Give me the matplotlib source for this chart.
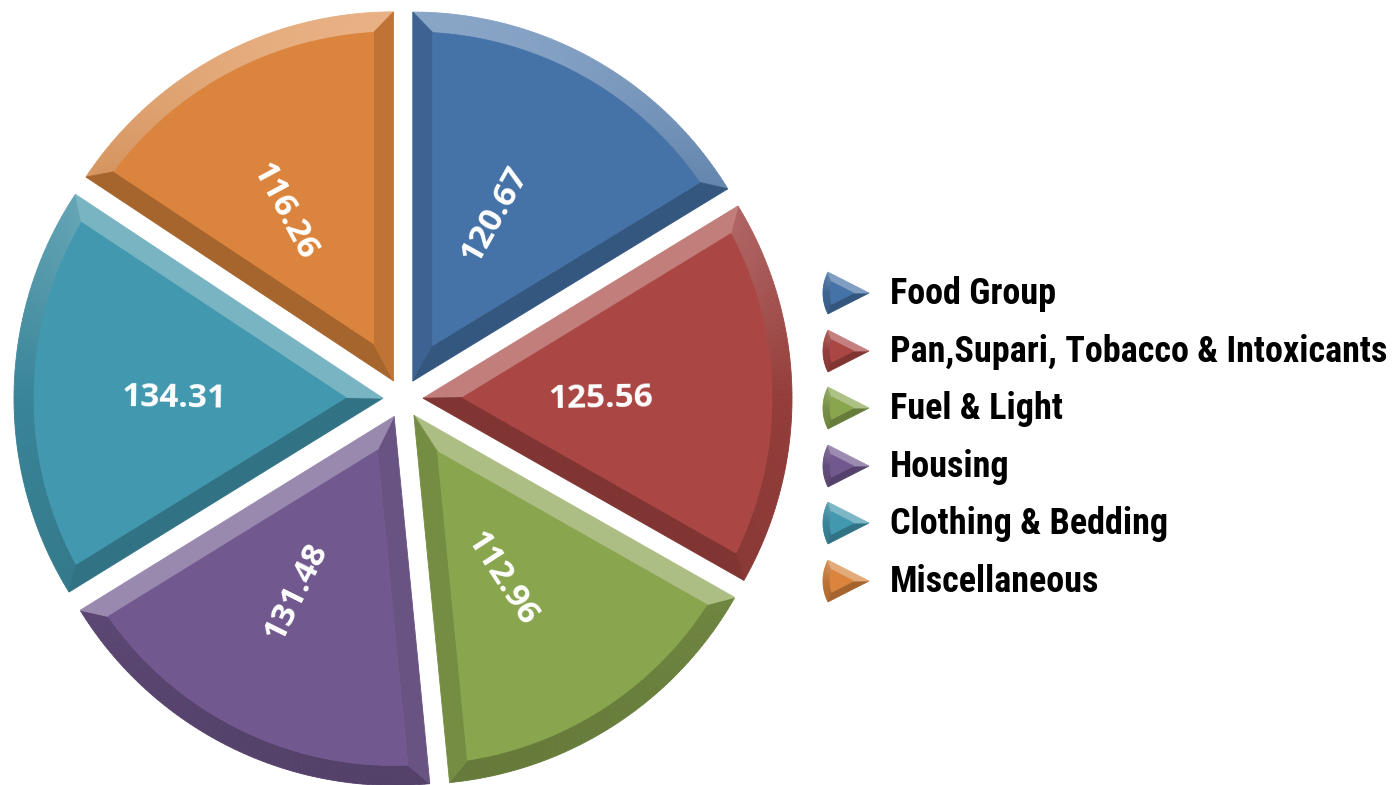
import numpy as np
import matplotlib
matplotlib.use("Agg")
import matplotlib.pyplot as plt
from matplotlib.patches import Polygon
from matplotlib import colors as mcolors
import logging
logging.getLogger("matplotlib.font_manager").setLevel(logging.ERROR)

categories = ["Food Group", "Pan,Supari, Tobacco & Intoxicants", "Fuel & Light",
              "Housing", "Clothing & Bedding", "Miscellaneous"]
values = [120.67, 125.56, 112.96, 131.48, 134.31, 116.26]
labels = ["120.67", "125.56", "112.96", "131.48", "134.31", "116.26"]
slice_colors = ["#4572A7", "#AA4643", "#89A54E", "#71588F", "#4198AF", "#DB843D"]

W, H = 1396, 785
fig = plt.figure(figsize=(W / 100, H / 100), dpi=100)
ax = fig.add_axes([0, 0, 1, 1])
ax.set_xlim(0, W)
ax.set_ylim(0, H)
ax.set_axis_off()

CX, CY = 403, H - 398.5   # pie centre (y up)
R = 369
EXPLODE = 20
BEVEL = 20
LABEL_FS = 24
LEGEND_FONT = ["Roboto Condensed", "Archivo Narrow", "Liberation Sans Narrow", "DejaVu Sans"]


def shade(base, s):
    b = np.array(mcolors.to_rgb(base))
    dark0 = b * 0.87
    if s <= 0:
        c = b * (0.87 + 0.13 * s)
    else:
        light = b * 0.64 + 0.36
        c = dark0 * (1 - s) + light * s
    return np.clip(c, 0, 1)


def bevel_wedge(ax, apex, radius, a1, a2, bevel, base, n=80, z=1):
    """a1 > a2 (degrees, math convention). Draw bevelled wedge."""
    ax_, ay_ = apex
    t1, t2 = np.radians(a1), np.radians(a2)
    half = (t1 - t2) / 2
    mid = (t1 + t2) / 2
    ri = radius - bevel
    d = np.arcsin(bevel / ri)
    ap_in = (ax_ + bevel / np.sin(half) * np.cos(mid), ay_ + bevel / np.sin(half) * np.sin(mid))
    phis = np.linspace(t2 + d, t1 - d, n)
    inner = [ap_in] + [(ax_ + ri * np.cos(p), ay_ + ri * np.sin(p)) for p in phis]
    outs = np.linspace(t2, t1, n + 1)
    ins = np.linspace(t2 + d, t1 - d, n + 1)
    for k in range(n):
        po = [(ax_ + radius * np.cos(outs[k]), ay_ + radius * np.sin(outs[k])),
              (ax_ + radius * np.cos(outs[k + 1]), ay_ + radius * np.sin(outs[k + 1])),
              (ax_ + ri * np.cos(ins[k + 1]), ay_ + ri * np.sin(ins[k + 1])),
              (ax_ + ri * np.cos(ins[k]), ay_ + ri * np.sin(ins[k]))]
        nrm = (outs[k] + outs[k + 1]) / 2
        c = shade(base, np.sin(nrm))
        ax.add_patch(Polygon(po, closed=True, facecolor=c, edgecolor=c, lw=0.6, zorder=z))
    f1 = [(ax_, ay_), (ax_ + radius * np.cos(t1), ay_ + radius * np.sin(t1)),
          (ax_ + ri * np.cos(t1 - d), ay_ + ri * np.sin(t1 - d)), ap_in]
    c1 = shade(base, np.sin(t1 + np.pi / 2))
    ax.add_patch(Polygon(f1, closed=True, facecolor=c1, edgecolor=c1, lw=0.6, zorder=z))
    f2 = [(ax_, ay_), (ax_ + radius * np.cos(t2), ay_ + radius * np.sin(t2)),
          (ax_ + ri * np.cos(t2 + d), ay_ + ri * np.sin(t2 + d)), ap_in]
    c2 = shade(base, np.sin(t2 - np.pi / 2))
    ax.add_patch(Polygon(f2, closed=True, facecolor=c2, edgecolor=c2, lw=0.6, zorder=z))
    ax.add_patch(Polygon(inner, closed=True, facecolor=base, edgecolor=base, lw=0.6, zorder=z + 0.5))


total = sum(values)
start = 90.0
LX, LY = CX - 15, CY     # centre used for value labels
half_cap = 0.714 * LABEL_FS * 100 / 72 / 2   # half of digit height in px
for val, lab, col in zip(values, labels, slice_colors):
    span = val / total * 360.0
    a1, a2 = start, start - span
    mid = np.radians((a1 + a2) / 2)
    apex = (CX + EXPLODE * np.cos(mid), CY + EXPLODE * np.sin(mid))
    bevel_wedge(ax, apex, R, a1, a2, BEVEL, col)
    lr = 0.578 * R
    tx, ty = LX + lr * np.cos(mid), LY + lr * np.sin(mid)
    rot = np.degrees(mid)
    while rot > 90:
        rot -= 180
    while rot < -90:
        rot += 180
    rr = np.radians(rot)
    # baseline anchor so that the digits' visual centre sits at (tx, ty)
    bx, by = tx + half_cap * np.sin(rr), ty - half_cap * np.cos(rr)
    ax.text(bx, by, lab, color="white", fontsize=LABEL_FS, fontweight="bold",
            family=["Open Sans", "DejaVu Sans"], rotation=rot, rotation_mode="anchor",
            ha="center", va="baseline", zorder=5)
    start = a2

# legend
leg_y = [H - 293, H - 351, H - 408, H - 466, H - 523, H - 581]
tip_x = 869
texts = []
for cat, col, y in zip(categories, slice_colors, leg_y):
    bevel_wedge(ax, (tip_x, y), 46, 207, 153, 7, col, n=20)
    t = ax.text(890, y - 1, cat, fontsize=22, fontweight="bold",
                family=LEGEND_FONT, ha="left", va="center",
                color="black", zorder=5)
    texts.append(t)

# fit legend font size so that the longest entry spans ~496 px
fig.canvas.draw()
renderer = fig.canvas.get_renderer()
wmax = max(t.get_window_extent(renderer).width for t in texts)
fs = 22 * 496.0 / wmax
for t in texts:
    t.set_fontsize(fs)

fig.savefig("out.png", dpi=100)
